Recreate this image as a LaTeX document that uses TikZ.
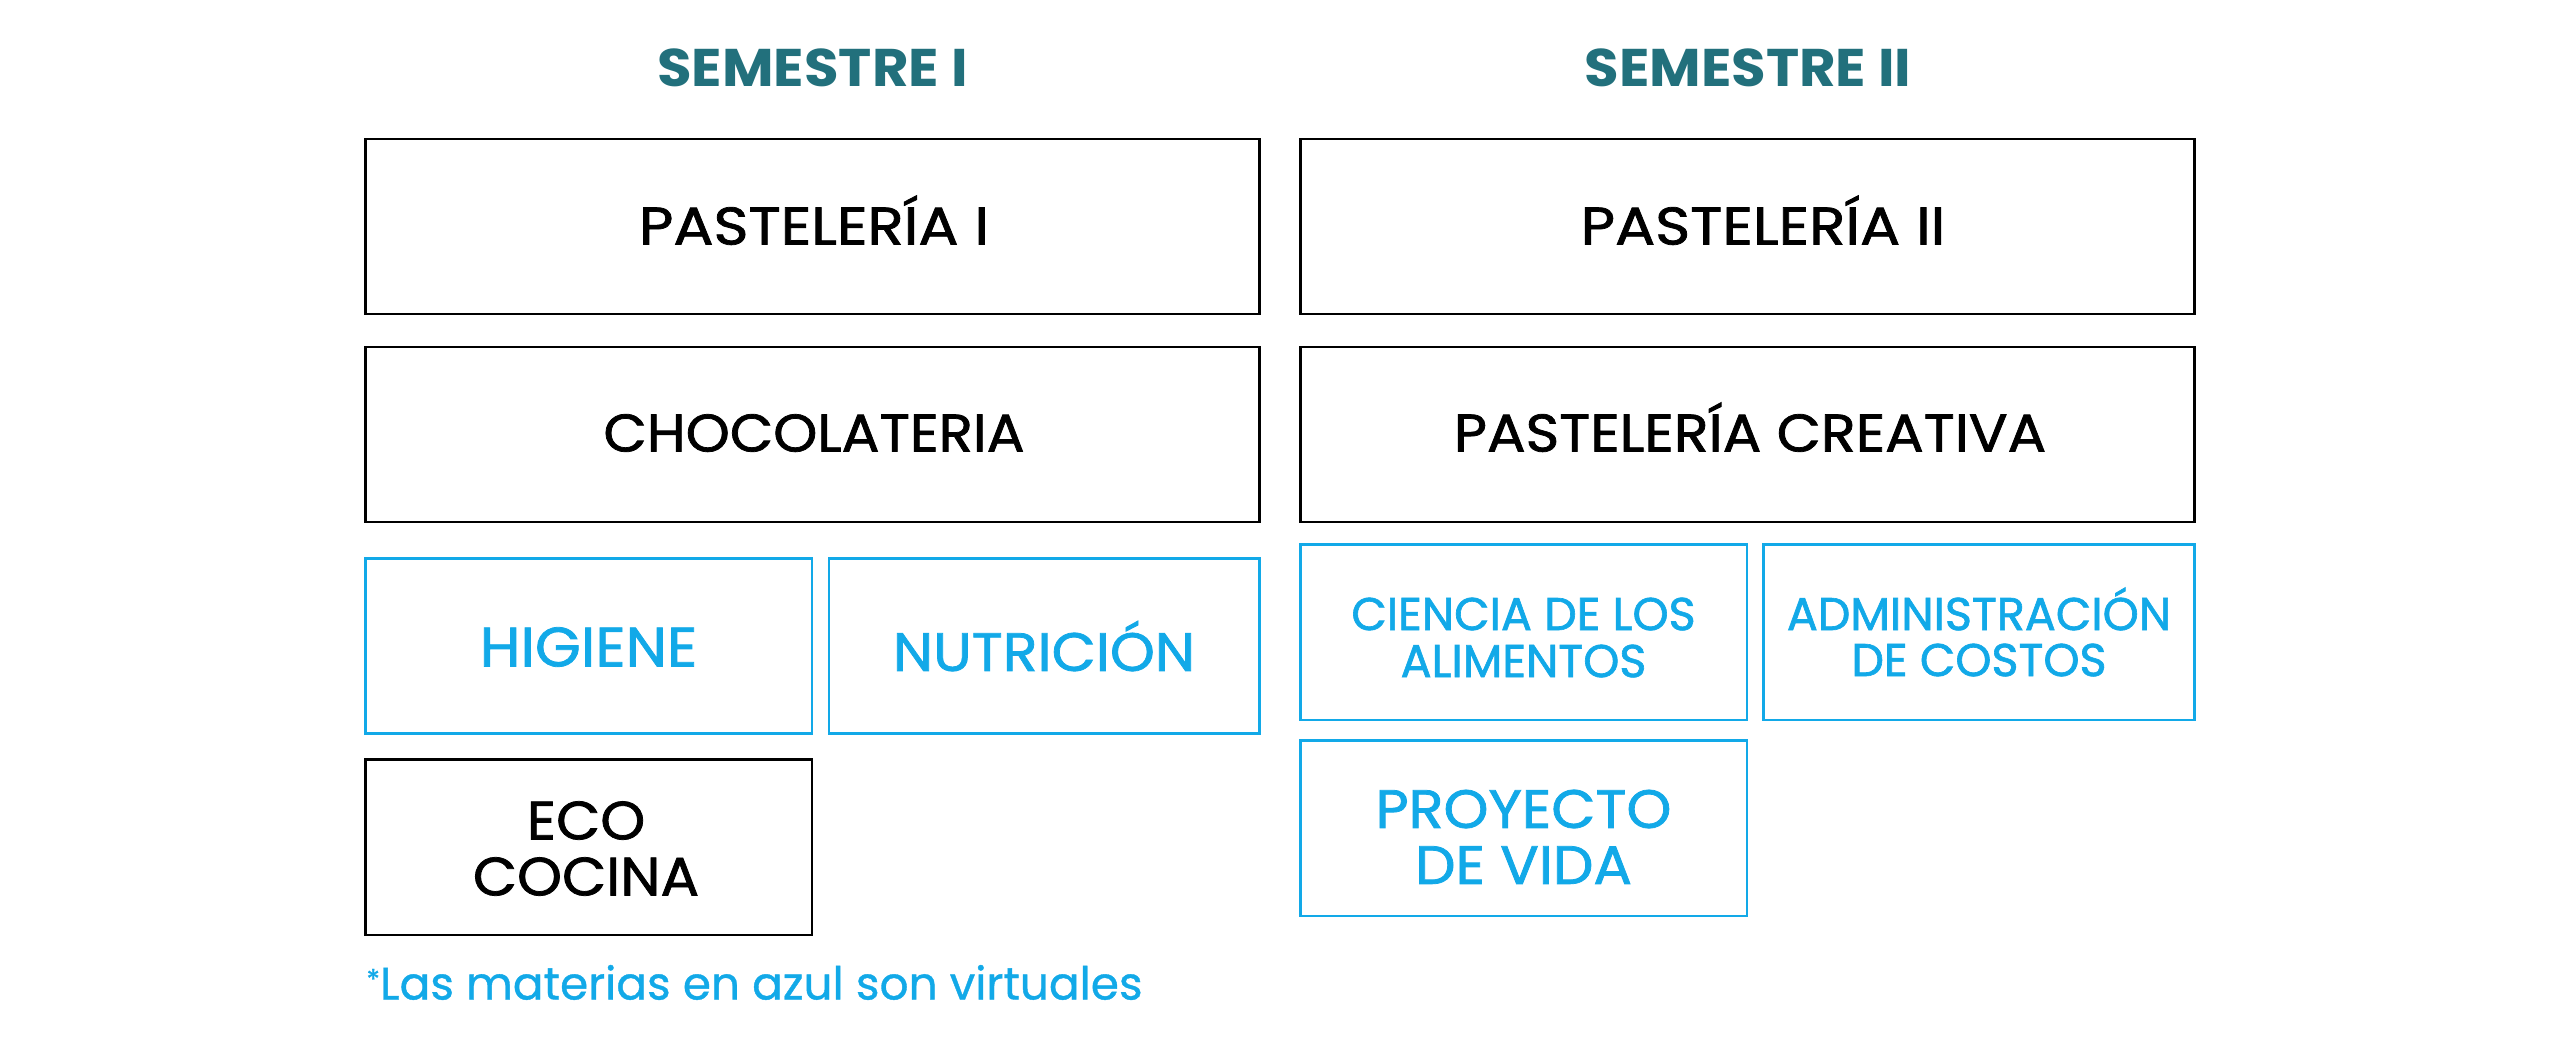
\documentclass[tikz,border=0pt]{standalone}
\usepackage{fontspec}
\usepackage{graphicx}
\setmainfont{Poppins}
\newfontfamily\fmed{Poppins}[FakeBold=1.4, FakeStretch=1.06]
\newfontfamily\fnarrow{Poppins}[FakeBold=1.4]
\newfontfamily\ftitle{Poppins}[FakeStretch=1.06]
\newfontfamily\fnote{Poppins}[FakeBold=0.8]
\definecolor{teal1}{HTML}{22707C}
\definecolor{sky}{HTML}{12A9E8}
\tikzset{
  subj/.style={draw=black, line width=1.4pt, inner sep=0pt},
  virt/.style={draw=sky, line width=1.4pt, inner sep=0pt},
  blk/.style={text=black, inner sep=0pt, text depth=0pt},
  blu/.style={text=sky, inner sep=0pt, text depth=0pt},
  semtitle/.style={text=teal1, font=\ftitle\fontsize{26.5}{30}\selectfont\bfseries, inner sep=0pt, text height=18.5pt, text depth=0pt},
}
% name, style, x1, y1, x2, y2
\newcommand{\boxat}[6]{%
  \node[#2, minimum width={(#5-#3)*0.5pt}, minimum height={(#6-#4)*0.5pt}] (#1) at ({(#3+#5)/2},{(#4+#6)/2}) {};}
% name, style, x, y, size, text   (y = middle of capitals)
\newcommand{\lab}[6]{%
  \node[#2, font=\fmed\fontsize{#5}{#5}\selectfont, text height={0.7*#5pt}] (#1) at (#3,#4) {#6};}
\newcommand{\labn}[6]{%
  \node[#2, font=\fnarrow\fontsize{#5}{#5}\selectfont, text height={0.7*#5pt}] (#1) at (#3,#4) {#6};}
\begin{document}
\begin{tikzpicture}[x=0.5pt,y=-0.5pt]
\useasboundingbox (0,0) rectangle (2560,1048);
\fill[white] (0,0) rectangle (2560,1048);
% titles
\node[semtitle] (s1) at (812.5,68) {SEMESTRE I};
\node[semtitle] (s2) at (1748,68) {SEMESTRE II};
% boxes semester I
\boxat{p1}{subj}{365.5}{139}{1259.5}{314}
\boxat{ch}{subj}{365.5}{347}{1259.5}{522}
\boxat{hi}{virt}{365.5}{558.5}{812}{733.5}
\boxat{nu}{virt}{829}{558.5}{1259.5}{733.5}
\boxat{ec}{subj}{365.5}{759.5}{812}{935}
% boxes semester II
\boxat{p2}{subj}{1300.5}{139}{2194.5}{314}
\boxat{pc}{subj}{1300.5}{347}{2194.5}{522}
\boxat{ci}{virt}{1300.5}{544.5}{1747}{720}
\boxat{ad}{virt}{1763.5}{544.5}{2194.5}{720}
\boxat{pv}{virt}{1300.5}{740.5}{1747}{916}
% labels
\lab{tp1}{blk}{814}{226}{26.5}{\scalebox{1.06}[1]{PASTELERÍA I}}
\lab{tch}{blk}{814}{433}{26.5}{CHOCOLATERIA}
\lab{thi}{blu}{588.5}{647}{27.8}{HIGIENE}
\lab{tnu}{blu}{1044}{652}{27}{NUTRICIÓN}
\lab{tec1}{blk}{586}{820.5}{27}{ECO}
\lab{tec2}{blk}{586}{876.5}{27}{COCINA}
\lab{tp2}{blk}{1763}{226}{26.5}{\scalebox{1.06}[1]{PASTELERÍA II}}
\lab{tpc}{blk}{1750}{433}{26.5}{\scalebox{1.02}[1]{PASTELERÍA CREATIVA}}
\labn{tci1}{blu}{1523.5}{614}{23}{CIENCIA DE LOS}
\labn{tci2}{blu}{1523.5}{661}{23}{ALIMENTOS}
\labn{tad1}{blu}{1979}{614}{23}{ADMINISTRACIÓN}
\labn{tad2}{blu}{1979}{660}{23}{DE COSTOS}
\lab{tpv1}{blu}{1523.5}{809}{27}{PROYECTO}
\lab{tpv2}{blu}{1523.5}{865}{27}{DE VIDA}
% footnote
\node[anchor=base west, text=sky, inner sep=0pt, font=\fnote\fontsize{22.7}{26}\selectfont] (fn) at (366,999.5) {\raisebox{5pt}{\fontsize{14}{16}\selectfont *}Las materias en azul son virtuales};
\end{tikzpicture}
\end{document}
